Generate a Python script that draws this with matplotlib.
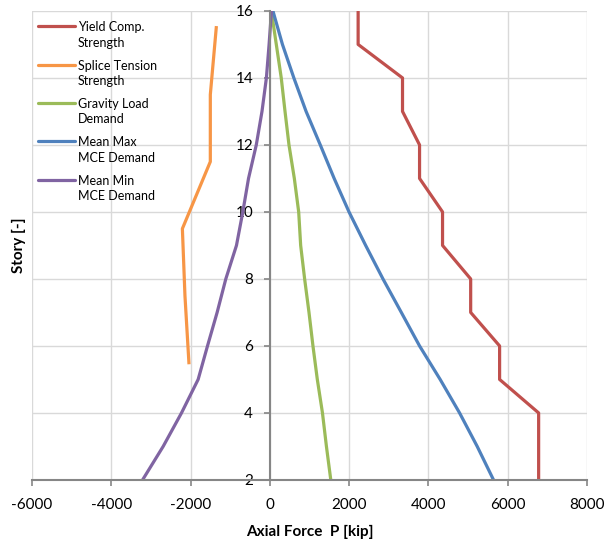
import numpy as np
import matplotlib.pyplot as plt
import matplotlib as mpl

mpl.rcParams['font.family'] = ['Lato', 'DejaVu Sans']
mpl.rcParams['axes.unicode_minus'] = False

# Story levels and axial forces [kip]
stories = [2, 3, 4, 5, 6, 7, 8, 9, 10, 11, 12, 13, 14, 15, 16]
yield_comp = [6785, 6785, 6785, 5800, 5800, 5070, 5070, 4360, 4360, 3780, 3780, 3350, 3350, 2230, 2230]
gravity = [1540, 1430, 1330, 1200, 1090, 990, 880, 780, 730, 620, 485, 385, 290, 165, 40]
mean_max = [5647, 5235, 4790, 4300, 3780, 3320, 2857, 2420, 2000, 1625, 1275, 917, 608, 320, 80]
mean_min = [-3210, -2690, -2227, -1807, -1571, -1328, -1109, -840, -680, -536, -340, -196, -85, -17, 43]

splice_stories = [5.5, 7.5, 9.5, 11.5, 13.5, 15.5]
splice_tension = [-2040, -2140, -2205, -1500, -1500, -1350]

labels = ["Yield Comp.\nStrength", "Splice Tension\nStrength", "Gravity Load\nDemand",
          "Mean Max\nMCE Demand", "Mean Min\nMCE Demand"]
colors = ["#C0504D", "#F79646", "#9BBB59", "#4F81BD", "#8064A2"]

fig = plt.figure(figsize=(6.07, 5.46), dpi=100)
ax = fig.add_axes([0.0527, 0.121, 0.914, 0.859])

lw = 2.3
ax.plot(yield_comp, stories, color=colors[0], lw=lw)
ax.plot(splice_tension, splice_stories, color=colors[1], lw=lw)
ax.plot(gravity, stories, color=colors[2], lw=lw)
ax.plot(mean_max, stories, color=colors[3], lw=lw)
ax.plot(mean_min, stories, color=colors[4], lw=lw)

ax.set_xlim(-6000, 8000)
ax.set_ylim(2, 16)
ax.set_xticks(np.arange(-6000, 8001, 2000))
ax.set_yticks(np.arange(2, 17, 2))
ax.grid(True, color="#D9D9D9", lw=1)
ax.set_axisbelow(True)

# Excel style: vertical axis crosses at x = 0
ax.spines['left'].set_position(('data', 0))
ax.spines['top'].set_visible(False)
ax.spines['right'].set_visible(False)
for s in ['left', 'bottom']:
    ax.spines[s].set_color("#868686")
    ax.spines[s].set_linewidth(1.5)
ax.tick_params(axis='both', colors="#868686", labelcolor="black", labelsize=11, length=4, width=1.2)
ax.tick_params(axis='x', pad=9)
ax.tick_params(axis='y', pad=8)

ax.set_xlabel("Axial Force  P [kip]", fontsize=11, fontweight="bold", labelpad=9)
ax.set_ylabel("Story [-]", fontsize=11, fontweight="bold")
ax.yaxis.set_label_coords(-0.01, 0.5)

# legend drawn Excel-like: handle level with the first text line
for i, (lab, c) in enumerate(zip(labels, colors)):
    y = 0.967 - i * 0.0817
    ax.plot([0.011, 0.077], [y, y], transform=ax.transAxes, color=c, lw=lw,
            solid_capstyle="round", clip_on=False)
    ax.text(0.083, y + 0.011, lab, transform=ax.transAxes, fontsize=9,
            va="top", ha="left", linespacing=1.35)

fig.savefig("out.png", dpi=100)
